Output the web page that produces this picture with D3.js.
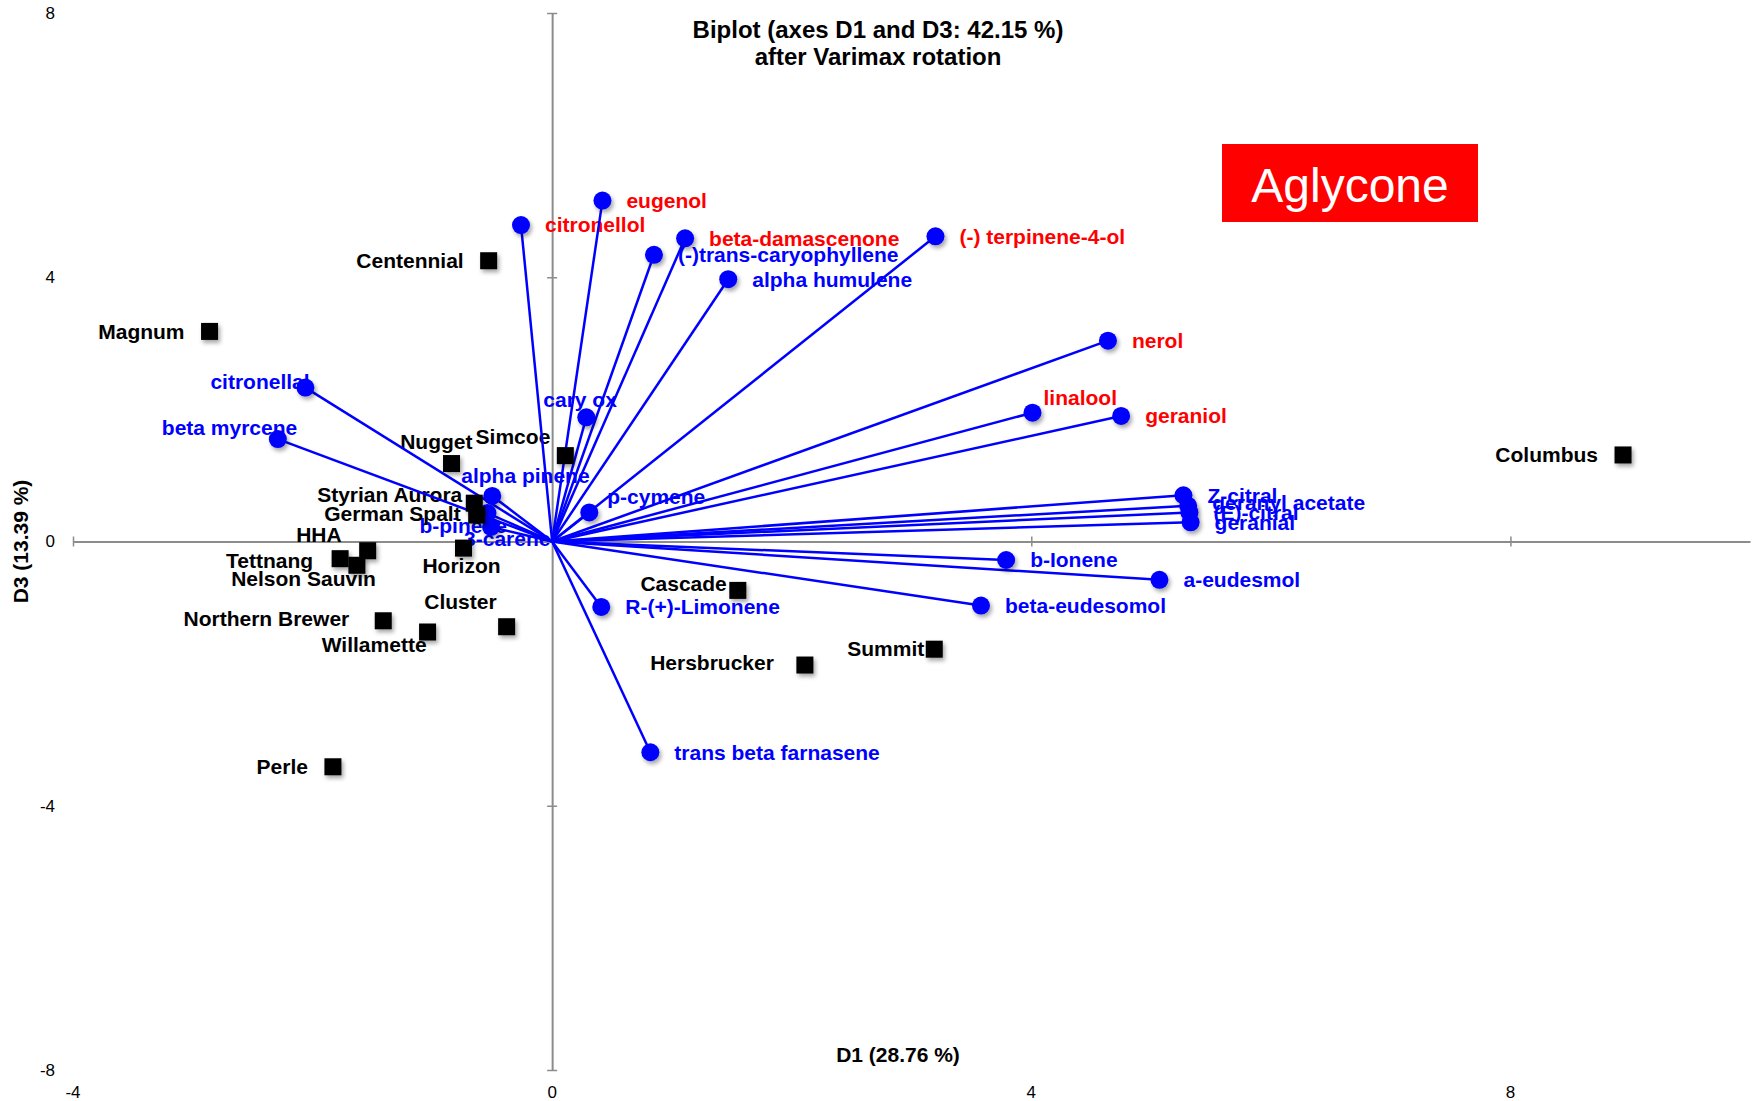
<!DOCTYPE html>
<html>
<head>
<meta charset="utf-8">
<script src="https://cdn.jsdelivr.net/npm/d3@7"></script>
<style>
  html, body { margin: 0; padding: 0; background: #fff; }
  svg { display: block; font-family: "Liberation Sans", Arial, Helvetica, sans-serif; }
</style>
</head>
<body>
<svg id="chart" width="1756" height="1101"></svg>
<script>
// ---------------- DATA ----------------
const obsNames = ["Centennial","Magnum","Nugget","Simcoe","Styrian Aurora","German Spalt","HHA","Tettnang",
  "Nelson Sauvin","Horizon","Northern Brewer","Willamette","Cluster","Perle","Cascade","Hersbrucker","Summit","Columbus"];
const obsD1 = [-0.53,-2.86,-0.84,0.11,-0.65,-0.63,-1.54,-1.77,-1.63,-0.74,-1.41,-1.04,-0.38,-1.83,1.55,2.11,3.19,8.94];
const obsD3 = [4.25,3.18,1.18,1.30,0.58,0.40,-0.14,-0.26,-0.36,-0.10,-1.20,-1.37,-1.29,-3.41,-0.74,-1.87,-1.63,1.31];

const varNames = ["eugenol","citronellol","beta-damascenone","(-)trans-caryophyllene","alpha humulene",
  "(-) terpinene-4-ol","nerol","linalool","geraniol","Z-citral","geranyl acetate","(E)-citral","geranial",
  "b-Ionene","a-eudesmol","beta-eudesomol","R-(+)-Limonene","trans beta farnasene","p-cymene","cary ox",
  "alpha pinene","b-pinene","3-carene","citronellal","beta myrcene"];
const varD1 = [0.42,-0.26,1.11,0.85,1.47,3.20,4.64,4.01,4.75,5.27,5.31,5.32,5.33,3.79,5.07,3.58,0.41,0.82,
  0.31,0.285,-0.50,-0.54,-0.51,-2.06,-2.29];
const varD3 = [5.16,4.79,4.59,4.34,3.97,4.62,3.04,1.95,1.90,0.70,0.54,0.44,0.29,-0.28,-0.58,-0.97,-0.99,-3.19,
  0.44,1.88,0.69,0.43,0.22,2.33,1.55];
// aglycone-group variables (highlighted in the chart)
const aglyconeVars = ["eugenol","citronellol","beta-damascenone","(-) terpinene-4-ol","nerol","linalool","geraniol"];

const xTicks = [-4, 0, 4, 8];
const yTicks = [-8, -4, 0, 4, 8];
const xDomain = [-4, 10];
const yDomain = [-8, 8];

const titleLines = ["Biplot (axes D1 and D3: 42.15 %)", "after Varimax rotation"];
const xTitle = "D1 (28.76 %)";
const yTitle = "D3 (13.39 %)";
const boxText = "Aglycone";

// ---------------- LAYOUT (label offsets in px) ----------------
const varLabelPos = {
  "linalool": [11, -15, "start"], "p-cymene": [18, -16, "start"], "cary ox": [-43, -18, "start"],
  "alpha pinene": [-31, -20, "start"], "b-pinene": [-68, 13, "start"], "3-carene": [-27, 12, "start"],
  "citronellal": [-95, -6, "start"], "beta myrcene": [-116, -11, "start"],
  "geranyl acetate": [24, -3, "start"]
};
const obsLabelPos = {
  "Nugget": [21, -22, "end"], "Simcoe": [-15, -19, "end"], "Styrian Aurora": [-12, -9, "end"],
  "German Spalt": [-16, -1, "end"], "HHA": [-26, -16, "end"], "Tettnang": [-27, 2, "end"],
  "Nelson Sauvin": [19, 13, "end"], "Horizon": [-2, 18, "middle"], "Cluster": [-10, -25, "end"],
  "Northern Brewer": [-34, -2, "end"], "Willamette": [-1, 13, "end"], "Cascade": [-11, -7, "end"],
  "Hersbrucker": [-31, -2, "end"], "Summit": [-10, -1, "end"]
};

// ---------------- DRAW ----------------
const svg = d3.select("#chart");
const M = { left: 73, right: 1750, top: 13, bottom: 1070 };
const x = d3.scaleLinear().domain(xDomain).range([M.left, M.right]);
const y = d3.scaleLinear().domain(yDomain).range([M.bottom, M.top]);

const defs = svg.append("defs");
const f = defs.append("filter").attr("id", "shadow").attr("x", "-50%").attr("y", "-50%").attr("width", "200%").attr("height", "200%");
f.append("feDropShadow").attr("dx", 2).attr("dy", 3).attr("stdDeviation", 2)
  .attr("flood-color", "#000").attr("flood-opacity", 0.35);

const axisColor = "#8c8c8c";
// x axis through y=0
const gx = svg.append("g").attr("transform", `translate(0,${y(0)})`)
  .call(d3.axisBottom(x).tickValues(xTicks.filter(v => v !== 0)).tickSizeInner(5).tickSizeOuter(0).tickFormat(""));
gx.selectAll("line").attr("stroke", axisColor).attr("stroke-width", 1.5).attr("y1", -5).attr("y2", 5);
gx.select(".domain").attr("stroke", axisColor).attr("stroke-width", 2);
// y axis through x=0
const gy = svg.append("g").attr("transform", `translate(${x(0)},0)`)
  .call(d3.axisLeft(y).tickValues(yTicks.filter(v => v !== 0)).tickSizeInner(5).tickSizeOuter(0).tickFormat(""));
gy.selectAll("line").attr("stroke", axisColor).attr("stroke-width", 1.5).attr("x1", -5).attr("x2", 5);
gy.select(".domain").attr("stroke", axisColor).attr("stroke-width", 2);

// tick labels at the border
svg.append("g").selectAll("text").data(xTicks).join("text")
  .attr("x", d => x(d)).attr("y", 1098).attr("text-anchor", "middle")
  .attr("font-size", 17).attr("fill", "#000").text(d => d);
svg.append("g").selectAll("text").data(yTicks).join("text")
  .attr("x", 55).attr("y", d => y(d)).attr("dy", "0.35em").attr("text-anchor", "end")
  .attr("font-size", 17).attr("fill", "#000").text(d => d);

// titles
svg.append("g").selectAll("text").data(titleLines).join("text")
  .attr("x", 878).attr("y", (d, i) => 38 + i * 27).attr("text-anchor", "middle")
  .attr("font-size", 24).attr("font-weight", "bold").text(d => d);
svg.append("text").attr("x", 898).attr("y", 1062).attr("text-anchor", "middle")
  .attr("font-size", 21).attr("font-weight", "bold").text(xTitle);
svg.append("text").attr("transform", `translate(28,${y(0)}) rotate(-90)`).attr("text-anchor", "middle")
  .attr("font-size", 21).attr("font-weight", "bold").text(yTitle);

// data tables
const vars = varNames.map((n, i) => ({ name: n, d1: varD1[i], d3: varD3[i], agly: aglyconeVars.includes(n) }));
const obs = obsNames.map((n, i) => ({ name: n, d1: obsD1[i], d3: obsD3[i] }));

// labels (beneath marks)
const lab = svg.append("g").attr("font-size", 21).attr("font-weight", "bold");
lab.selectAll("text.var").data(vars).join("text").attr("class", "var")
  .attr("x", d => x(d.d1) + (varLabelPos[d.name] ? varLabelPos[d.name][0] : 24))
  .attr("y", d => y(d.d3) + (varLabelPos[d.name] ? varLabelPos[d.name][1] : 0))
  .attr("dy", "0.35em")
  .attr("text-anchor", d => varLabelPos[d.name] ? varLabelPos[d.name][2] : "start")
  .attr("fill", d => d.agly ? "#ff0000" : "#0000ff").text(d => d.name);
lab.selectAll("text.obs").data(obs).join("text").attr("class", "obs")
  .attr("x", d => x(d.d1) + (obsLabelPos[d.name] ? obsLabelPos[d.name][0] : -25))
  .attr("y", d => y(d.d3) + (obsLabelPos[d.name] ? obsLabelPos[d.name][1] : 0))
  .attr("dy", "0.35em")
  .attr("text-anchor", d => obsLabelPos[d.name] ? obsLabelPos[d.name][2] : "end")
  .attr("fill", "#000").text(d => d.name);

// vectors
svg.append("g").selectAll("line").data(vars).join("line")
  .attr("x1", x(0)).attr("y1", y(0)).attr("x2", d => x(d.d1)).attr("y2", d => y(d.d3))
  .attr("stroke", "#0000ff").attr("stroke-width", 2.5);
svg.append("g").selectAll("circle").data(vars).join("circle")
  .attr("cx", d => x(d.d1)).attr("cy", d => y(d.d3)).attr("r", 9)
  .attr("fill", "#0000ff").attr("filter", "url(#shadow)");

// observations
const sq = 17;
svg.append("g").selectAll("rect").data(obs).join("rect")
  .attr("x", d => x(d.d1) - sq / 2).attr("y", d => y(d.d3) - sq / 2)
  .attr("width", sq).attr("height", sq).attr("fill", "#000").attr("filter", "url(#shadow)");

// Aglycone box
svg.append("rect").attr("x", 1222).attr("y", 144).attr("width", 256).attr("height", 78).attr("fill", "#ff0000");
svg.append("text").attr("x", 1350).attr("y", 202).attr("text-anchor", "middle")
  .attr("font-size", 48).attr("fill", "#fff").text(boxText);
</script>
</body>
</html>
